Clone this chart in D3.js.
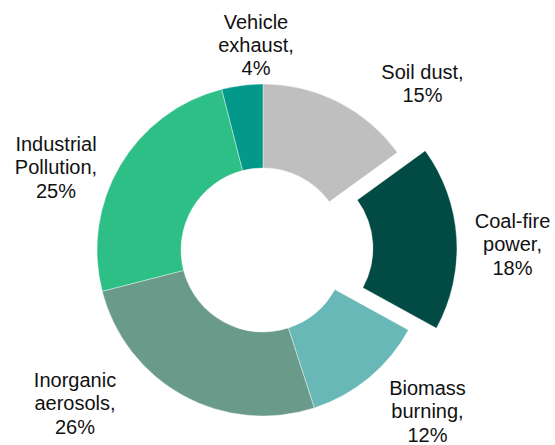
<!DOCTYPE html>
<html><head><meta charset="utf-8">
<script src="https://cdn.jsdelivr.net/npm/d3@7"></script>
<style>html,body{margin:0;padding:0;background:#fff;}</style>
</head><body>
<svg id="chart" width="555" height="445"></svg>
<script>
const categories = ["Soil dust", "Coal-fire power", "Biomass burning", "Inorganic aerosols", "Industrial Pollution", "Vehicle exhaust"];
const values = [15, 18, 12, 26, 25, 4];
const labelLines = [
  ["Soil dust,", "15%"],
  ["Coal-fire", "power,", "18%"],
  ["Biomass", "burning,", "12%"],
  ["Inorganic", "aerosols,", "26%"],
  ["Industrial", "Pollution,", "25%"],
  ["Vehicle", "exhaust,", "4%"]
];
const colors = ["#bfbfbf", "#024b45", "#67b8b6", "#6a9a8a", "#2ebf87", "#02988a"];
const exploded = ["Coal-fire power"];

const W = 555, H = 445;
const cx = 263, cy = 250, rOuter = 166, rInner = 82, explode = 28;
// label anchor positions (center x, first baseline y)
const labelPos = [[422.5, 78.5], [512.5, 228], [427.5, 395], [75, 387], [56, 151], [256, 28.5]];

const svg = d3.select("#chart");
const g = svg.append("g").attr("transform", `translate(${cx},${cy})`);
const pie = d3.pie().sort(null).value(d => d.value);
const data = categories.map((c, i) => ({cat: c, value: values[i], color: colors[i], lines: labelLines[i], pos: labelPos[i]}));
const arcs = pie(data);
const arc = d3.arc().innerRadius(rInner).outerRadius(rOuter);

g.selectAll("path").data(arcs).join("path")
  .attr("d", arc)
  .attr("fill", d => d.data.color)
  .attr("stroke", "#fff").attr("stroke-width", 0.4)
  .attr("transform", d => {
    if (!exploded.includes(d.data.cat)) return null;
    const a = (d.startAngle + d.endAngle) / 2;
    return `translate(${explode * Math.sin(a)},${-explode * Math.cos(a)})`;
  });

const lh = 23.4;
const lbl = svg.append("g")
  .attr("font-family", "Liberation Sans, Arial, sans-serif")
  .attr("font-size", 20).attr("fill", "#111").attr("text-anchor", "middle");
data.forEach(d => {
  const t = lbl.append("text").attr("x", d.pos[0]).attr("y", d.pos[1]);
  d.lines.forEach((l, i) => t.append("tspan").attr("x", d.pos[0]).attr("y", d.pos[1] + i * lh).text(l));
});
</script>
</body></html>
